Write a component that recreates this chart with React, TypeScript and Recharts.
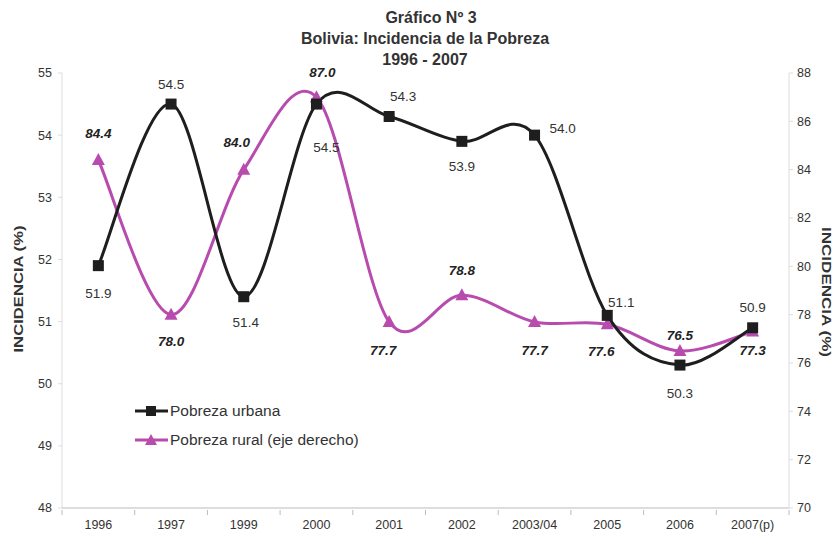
import { LineChart, Line, XAxis, YAxis } from "recharts";

const years = ["1996", "1997", "1999", "2000", "2001", "2002", "2003/04", "2005", "2006", "2007(p)"];
const urbana = [51.9, 54.5, 51.4, 54.5, 54.3, 53.9, 54.0, 51.1, 50.3, 50.9];
const rural = [84.4, 78.0, 84.0, 87.0, 77.7, 78.8, 77.7, 77.6, 76.5, 77.3];
const leftTicks = [48, 49, 50, 51, 52, 53, 54, 55];
const rightTicks = [70, 72, 74, 76, 78, 80, 82, 84, 86, 88];

// label offsets [dx, dy] from each marker
const urbanaLabelPos = [[0, 28], [0, -20], [2, 26], [10, 43], [14, -20], [0, 25], [28, -7], [14, -13], [0, 28], [0, -20]];
const ruralLabelPos = [[0, -27], [0, 27], [-7, -27], [6, -25], [-6, 29], [0, -25], [0, 29], [-6, 27], [0, -15], [0, 19]];

const URBAN = "#1e1e1e";
const RURAL = "#b84cae";
const FONT = "Arial, 'Liberation Sans', sans-serif";

const W = 835;
const H = 542;
const PLOT_LEFT = 62;
const PLOT_RIGHT = 789;
const BAND = (PLOT_RIGHT - PLOT_LEFT) / years.length;

const data = years.map((y, i) => ({ year: y, urbana: urbana[i], rural: rural[i] }));

// excel style smoothed line (bezier, 1/6 tangents)
const excelCurve = (ctx: any) => {
  let pts: number[][] = [];
  return {
    areaStart() {},
    areaEnd() {},
    lineStart() { pts = []; },
    point(x: number, y: number) { pts.push([+x, +y]); },
    lineEnd() {
      if (!pts.length) return;
      ctx.moveTo(pts[0][0], pts[0][1]);
      for (let i = 0; i < pts.length - 1; i++) {
        const p0 = pts[Math.max(0, i - 1)];
        const p1 = pts[i];
        const p2 = pts[i + 1];
        const p3 = pts[Math.min(pts.length - 1, i + 2)];
        ctx.bezierCurveTo(
          p1[0] + (p2[0] - p0[0]) / 6, p1[1] + (p2[1] - p0[1]) / 6,
          p2[0] - (p3[0] - p1[0]) / 6, p2[1] - (p3[1] - p1[1]) / 6,
          p2[0], p2[1]
        );
      }
    },
  };
};

function UrbanDot(props: any) {
  const { cx, cy, index, value } = props;
  const [dx, dy] = urbanaLabelPos[index];
  return (
    <g key={`u${index}`}>
      <rect x={cx - 5.5} y={cy - 5.5} width={11} height={11} fill={URBAN} />
      <text x={cx + dx} y={cy + dy} textAnchor="middle" dominantBaseline="central"
        fontSize={13.5} fontFamily={FONT} fill="#333">
        {Number(value).toFixed(1)}
      </text>
    </g>
  );
}

function RuralDot(props: any) {
  const { cx, cy, index, value } = props;
  const [dx, dy] = ruralLabelPos[index];
  return (
    <g key={`r${index}`}>
      <path d={`M${cx},${cy - 7} L${cx + 6.5},${cy + 5} L${cx - 6.5},${cy + 5} Z`} fill={RURAL} />
      <text x={cx + dx} y={cy + dy} textAnchor="middle" dominantBaseline="central"
        fontSize={13.5} fontWeight="bold" fontStyle="italic" fontFamily={FONT} fill="#222">
        {Number(value).toFixed(1)}
      </text>
    </g>
  );
}

function XTick(props: any) {
  const { x, y, payload, index } = props;
  return (
    <g>
      <line x1={x - BAND / 2} y1={y} x2={x - BAND / 2} y2={y + 5} stroke="#bbb" />
      {index === years.length - 1 && <line x1={x + BAND / 2} y1={y} x2={x + BAND / 2} y2={y + 5} stroke="#bbb" />}
      <text x={x} y={y + 19} textAnchor="middle" fontSize={12.5} fontFamily={FONT} fill="#333">
        {payload.value}
      </text>
    </g>
  );
}

export default function App() {
  return (
    <div style={{ position: "absolute", left: 0, top: 0, width: W, height: H, background: "#fff" }}>
      <LineChart width={W} height={H} data={data} margin={{ top: 73, right: 0, bottom: 0, left: 0 }}>
        <XAxis dataKey="year" height={34} tick={<XTick />} tickLine={false} tickSize={0}
          padding={{ left: BAND / 2, right: BAND / 2 }}
          axisLine={{ stroke: "#bbb" }} interval={0} />
        <YAxis yAxisId="left" domain={[48, 55]} ticks={leftTicks} width={62} tickSize={4} tickMargin={6}
          axisLine={{ stroke: "#ddd" }} tickLine={{ stroke: "#ddd" }}
          tick={{ fontSize: 12.5, fontFamily: FONT, fill: "#333" }} interval={0} />
        <YAxis yAxisId="right" orientation="right" domain={[70, 88]} ticks={rightTicks} width={46}
          tickSize={4} tickMargin={4} axisLine={{ stroke: "#ddd" }} tickLine={{ stroke: "#ddd" }}
          tick={{ fontSize: 12.5, fontFamily: FONT, fill: "#333" }} interval={0} />
        <Line yAxisId="right" dataKey="rural" name="Pobreza rural (eje derecho)" type={excelCurve as any}
          stroke={RURAL} strokeWidth={3} dot={RuralDot} activeDot={false} isAnimationActive={false} />
        <Line yAxisId="left" dataKey="urbana" name="Pobreza urbana" type={excelCurve as any}
          stroke={URBAN} strokeWidth={3} dot={UrbanDot} activeDot={false} isAnimationActive={false} />
      </LineChart>
      <svg width={W} height={H} style={{ position: "absolute", left: 0, top: 0, pointerEvents: "none" }}
        fontFamily={FONT}>
        <g fontWeight="bold" fontSize={16} fill="#333" textAnchor="middle">
          <text x={431} y={23}>Gráfico  Nº 3</text>
          <text x={425} y={44}>Bolivia: Incidencia de la Pobreza</text>
          <text x={425} y={65}>1996 - 2007</text>
        </g>
        <text x={0} y={0} transform="translate(23,289) rotate(-90)" textAnchor="middle"
          fontWeight="bold" fontSize={13} fill="#333" textLength={127} lengthAdjust="spacingAndGlyphs">
          INCIDENCIA (%)
        </text>
        <text x={0} y={0} transform="translate(822,292) rotate(90)" textAnchor="middle"
          fontWeight="bold" fontSize={13} fill="#333" textLength={130} lengthAdjust="spacingAndGlyphs">
          INCIDENCIA (%)
        </text>
        <g>
          <line x1={135} y1={411} x2={168} y2={411} stroke={URBAN} strokeWidth={3} />
          <rect x={146} y={406} width={10} height={10} fill={URBAN} />
          <text x={170} y={416} fontSize={15.5} fill="#333">Pobreza urbana</text>
          <line x1={135} y1={440} x2={168} y2={440} stroke={RURAL} strokeWidth={3} />
          <path d="M151,434 L157,445 L145,445 Z" fill={RURAL} />
          <text x={170} y={445} fontSize={15.5} fill="#333">Pobreza rural (eje derecho)</text>
        </g>
      </svg>
    </div>
  );
}
